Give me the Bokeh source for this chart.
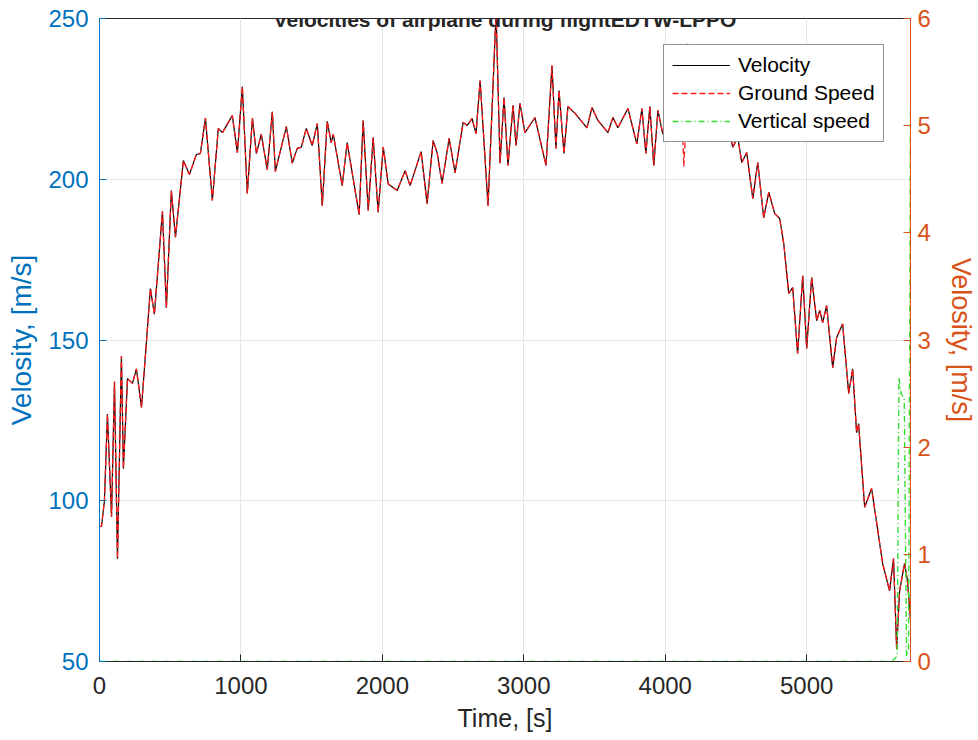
from bokeh.plotting import figure
from bokeh.models import Range1d, LinearAxis, Legend, LegendItem, Label, FixedTicker
from bokeh.embed import file_html
from bokeh.resources import INLINE

# Flight record: time [s] and speeds [m/s]
time_s = [0, 14, 35, 56, 85, 106, 127, 155, 169, 198, 233, 261, 297, 360, 388, 445, 473,
          508, 537, 593, 636, 685, 713, 749, 798, 840, 869, 939, 975, 1010, 1045, 1081,
          1109, 1144, 1186, 1222, 1243, 1321, 1363, 1398, 1427, 1462, 1504, 1540, 1575,
          1610, 1638, 1653, 1716, 1751, 1836, 1864, 1900, 1935, 1970, 2006, 2041, 2105,
          2161, 2196, 2274, 2316, 2359, 2387, 2422, 2472, 2514, 2571, 2599, 2634, 2662,
          2691, 2747, 2804, 2832, 2860, 2888, 2924, 2945, 2973, 3008, 3079, 3157, 3199,
          3227, 3249, 3284, 3312, 3362, 3446, 3482, 3524, 3595, 3630, 3665, 3736, 3799,
          3835, 3863, 3891, 3919, 3948, 3983, 4018, 4061, 4096, 4124, 4131, 4145, 4159,
          4174, 4230, 4280, 4329, 4386, 4435, 4477, 4513, 4541, 4576, 4619, 4654, 4696,
          4732, 4774, 4809, 4838, 4873, 4901, 4936, 4972, 5000, 5035, 5071, 5092, 5113,
          5141, 5184, 5212, 5254, 5297, 5325, 5353, 5367, 5410, 5459, 5537, 5586, 5614,
          5636, 5657, 5692, 5713, 5734]

velocity = [92, 92, 100, 127, 95, 137, 82, 145, 110, 138, 136.5, 141, 129, 166, 158, 190,
            160, 196.5, 182, 205.8, 201.5, 207.7, 208, 219, 193.4, 215.8, 214.5, 219.8,
            208.3, 228.8, 195.6, 219, 208, 214, 203, 221, 202.4, 216.4, 205, 209.6, 210,
            215.8, 210.5, 217.3, 191.8, 218, 211.4, 214, 198, 211.4, 189, 218.3, 190.3, 213,
            189.7, 210, 198.5, 196.5, 202.7, 198, 208.6, 192.4, 212, 208.3, 198.7, 212.7,
            202, 217.7, 216.7, 218.9, 214.2, 230.7, 191.8, 252, 205, 225.4, 204.3, 223,
            210.5, 223.6, 214.5, 219.2, 204.3, 235.4, 209.6, 227.6, 208, 222.6, 220.5, 216,
            222.3, 218.3, 214.5, 219.2, 216, 222, 211, 222, 208, 222.6, 204.3, 221.4, 214,
            219, 213, 218, 214, 212, 215, 236, 216, 221, 214, 220, 215, 219, 210, 213,
            205.2, 208.3, 194, 205.2, 188, 196, 189.3, 187.8, 180, 164.5, 166.3, 145.8, 170,
            147.4, 169.4, 156, 159.2, 155.4, 160.7, 141.4, 150.8, 155, 133.4, 141, 121.2,
            124, 98, 103.8, 80.5, 72, 82, 54, 72, 80.5, 75, 63]

ground_speed = [92, 92, 100, 127, 95, 137, 82, 145, 110, 138, 136.5, 141, 129, 166, 158,
                190, 160, 196.5, 182, 205.8, 201.5, 207.7, 208, 219, 193.4, 215.8, 214.5,
                219.8, 208.3, 228.8, 195.6, 219, 208, 214, 203, 221, 202.4, 216.4, 205,
                209.6, 210, 215.8, 210.5, 217.3, 191.8, 218, 211.4, 214, 198, 211.4, 189,
                218.3, 190.3, 213, 189.7, 210, 198.5, 196.5, 202.7, 198, 208.6, 192.4, 212,
                208.3, 198.7, 212.7, 202, 217.7, 216.7, 218.9, 214.2, 230.7, 191.8, 252,
                205, 225.4, 204.3, 223, 210.5, 223.6, 214.5, 219.2, 204.3, 235.4, 209.6,
                227.6, 208, 222.6, 220.5, 216, 222.3, 218.3, 214.5, 219.2, 216, 222, 211,
                222, 208, 222.6, 204.3, 221.4, 214, 219, 213, 218, 214, 204, 215, 242.5,
                216, 221, 214, 220, 215, 219, 210, 213, 205.2, 208.3, 194, 205.2, 188, 196,
                189.3, 187.8, 180, 164.5, 166.3, 145.8, 170, 147.4, 169.4, 156, 159.2,
                155.4, 160.7, 141.4, 150.8, 155, 133.4, 141, 121.2, 124, 98, 103.8, 80.5,
                72, 82, 54, 72, 80.5, 75, 63]

vs_time = [0, 1000, 2000, 3000, 4000, 5000, 5600, 5640, 5652, 5668, 5690, 5706, 5720,
           5734]
vertical_speed = [0, 0, 0, 0, 0, 0, 0, 0.05, 2.65, 2.5, 2.45, 0.05, 0.1, 5.2]

x_ticks = [0, 1000, 2000, 3000, 4000, 5000]
left_ticks = [50, 100, 150, 200, 250]
right_ticks = [0, 1, 2, 3, 4, 5, 6]

BLUE = "#0072BD"
ORANGE = "#D95319"
DARK = "#262626"
GRID = "#e3e6e8"
FONT = "Liberation Sans"

p = figure(width=978, height=740, output_backend="svg", toolbar_location=None,
           x_range=Range1d(0, 5734), y_range=Range1d(50, 250),
           min_border_left=99, min_border_right=67, min_border_top=18,
           min_border_bottom=79, background_fill_color="white",
           border_fill_color="white", outline_line_color=DARK, outline_line_width=1)
p.extra_y_ranges = {"vs": Range1d(0, 6)}

# bottom axis
xa = p.xaxis[0]
xa.ticker = FixedTicker(ticks=x_ticks)
xa.axis_label = "Time, [s]"
xa.axis_label_text_font = FONT
xa.axis_label_text_font_size = "25px"
xa.axis_label_text_font_style = "normal"
xa.axis_label_text_color = DARK
xa.axis_label_standoff = 7
xa.major_label_text_font = FONT
xa.major_label_text_font_size = "24px"
xa.major_label_text_color = DARK
xa.major_label_standoff = 15
xa.major_tick_in = 7
xa.major_tick_out = 0
xa.minor_tick_line_color = None
xa.axis_line_color = DARK
xa.major_tick_line_color = DARK

# left axis
ya = p.yaxis[0]
ya.ticker = FixedTicker(ticks=left_ticks)
ya.axis_label = "Velosity, [m/s]"
ya.axis_label_text_font = FONT
ya.axis_label_text_font_size = "28px"
ya.axis_label_text_font_style = "normal"
ya.axis_label_text_color = BLUE
ya.axis_label_standoff = 8
ya.major_label_text_font = FONT
ya.major_label_text_font_size = "24px"
ya.major_label_text_color = BLUE
ya.major_label_standoff = 11
ya.major_tick_in = 7
ya.major_tick_out = 0
ya.minor_tick_line_color = None
ya.axis_line_color = BLUE
ya.major_tick_line_color = BLUE

# right axis for vertical speed
ra = LinearAxis(y_range_name="vs", ticker=FixedTicker(ticks=right_ticks),
                axis_label="Velosity, [m/s]")
ra.axis_label_text_font = FONT
ra.axis_label_text_font_size = "27px"
ra.axis_label_text_font_style = "normal"
ra.axis_label_text_color = ORANGE
ra.axis_label_standoff = 12
ra.major_label_text_font = FONT
ra.major_label_text_font_size = "24px"
ra.major_label_text_color = ORANGE
ra.major_label_standoff = 7
ra.major_tick_in = 7
ra.major_tick_out = 0
ra.minor_tick_line_color = None
ra.axis_line_color = ORANGE
ra.major_tick_line_color = ORANGE
p.add_layout(ra, "right")

p.xgrid.ticker = FixedTicker(ticks=x_ticks)
p.ygrid.ticker = FixedTicker(ticks=left_ticks)
p.xgrid.grid_line_color = GRID
p.ygrid.grid_line_color = GRID

r_vel = p.line(time_s, velocity, line_color="black", line_width=1.2)
r_gs = p.line(time_s, ground_speed, line_color="#ff1a1a", line_width=1.3,
              line_dash="6 3")
r_vs = p.line(vs_time, vertical_speed, line_color="#33dd33", line_width=1.4,
              line_dash="6 3 1 3", y_range_name="vs")

legend = Legend(items=[LegendItem(label="Velocity", renderers=[r_vel]),
                       LegendItem(label="Ground Speed", renderers=[r_gs]),
                       LegendItem(label="Vertical speed", renderers=[r_vs])],
                location=(564, 519))
legend.label_text_font = FONT
legend.label_text_font_size = "21px"
legend.label_text_color = "black"
legend.glyph_width = 58
legend.glyph_height = 22
legend.label_height = 22
legend.label_standoff = 8
legend.spacing = 4
legend.padding = 8
legend.border_line_color = DARK
legend.border_line_width = 1
legend.background_fill_color = "white"
legend.background_fill_alpha = 1
p.add_layout(legend, "center")

title = Label(x=2867, y=249.7, text="Velocities of airplane during flightEDTW-LPPO",
              text_align="center", text_baseline="alphabetic", text_font=FONT,
              text_font_size="21px", text_font_style="bold", text_color=DARK)
p.add_layout(title)

open("out.html", "w").write(file_html(p, INLINE))
